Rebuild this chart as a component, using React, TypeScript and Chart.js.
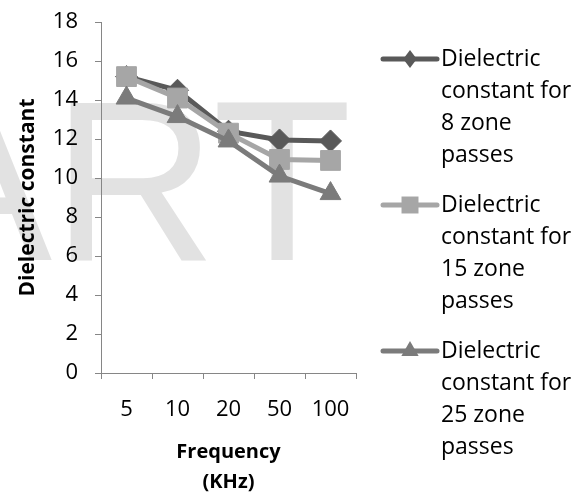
import React, { useEffect, useRef } from 'react';
import { Chart, registerables } from 'chart.js';

Chart.register(...registerables);

const categories = ['5', '10', '20', '50', '100'];
const zone8 = [15.2, 14.5, 12.4, 11.95, 11.9];
const zone15 = [15.2, 14.1, 12.3, 10.95, 10.9];
const zone25 = [14.1, 13.15, 11.9, 10.1, 9.2];
const seriesNames = [
  'Dielectric constant for 8 zone passes',
  'Dielectric constant for 15 zone passes',
  'Dielectric constant for 25 zone passes',
];
const legendLines = [
  ['Dielectric', 'constant for', '8 zone', 'passes'],
  ['Dielectric', 'constant for', '15 zone', 'passes'],
  ['Dielectric', 'constant for', '25 zone', 'passes'],
];
const yTitle = 'Dielectric constant';
const xTitleLines = ['Frequency', '(KHz)'];
const watermark = 'ART';

const COLORS = ['#595959', '#a6a6a6', '#7b7b7b'];
const STYLES = ['rectRot', 'rect', 'triangle'];
const AXIS = '#868686';
const FONT = '"Open Sans", "Noto Sans", sans-serif';

function drawMarker(ctx: CanvasRenderingContext2D, style: string, x: number, y: number, r: number) {
  ctx.beginPath();
  if (style === 'rectRot') {
    ctx.moveTo(x - r * 0.75, y);
    ctx.lineTo(x, y - r);
    ctx.lineTo(x + r * 0.75, y);
    ctx.lineTo(x, y + r);
  } else if (style === 'rect') {
    const s = r * Math.SQRT1_2;
    ctx.rect(x - s, y - s, 2 * s, 2 * s);
  } else {
    ctx.moveTo(x, y - r);
    ctx.lineTo(x + r * 0.866, y + r * 0.5);
    ctx.lineTo(x - r * 0.866, y + r * 0.5);
  }
  ctx.closePath();
  ctx.fill();
}

const overlayPlugin = {
  id: 'overlay',
  beforeDraw(chart: any) {
    const ctx = chart.ctx;
    ctx.save();
    ctx.fillStyle = '#e2e2e2';
    ctx.font = '228px "Liberation Sans", Arial, sans-serif';
    ctx.textBaseline = 'alphabetic';
    ctx.textAlign = 'left';
    ctx.fillText(watermark, -100, 260);
    ctx.restore();
  },
  afterDraw(chart: any) {
    const ctx = chart.ctx;
    const area = chart.chartArea;
    ctx.save();
    ctx.fillStyle = '#000';
    ctx.font = `bold 21px ${FONT}`;
    ctx.textAlign = 'center';
    ctx.textBaseline = 'middle';
    ctx.translate(28, (area.top + area.bottom) / 2);
    ctx.rotate(-Math.PI / 2);
    ctx.fillText(yTitle, 0, 0);
    ctx.restore();

    ctx.save();
    ctx.fillStyle = '#000';
    ctx.font = `bold 20px ${FONT}`;
    ctx.textAlign = 'center';
    ctx.textBaseline = 'middle';
    const cx = (area.left + area.right) / 2;
    xTitleLines.forEach((t, i) => ctx.fillText(t, cx, 452 + i * 30));
    ctx.restore();

    const x0 = 383;
    const x1 = 437;
    const startY = 59;
    const entryGap = 146;
    const lineGap = 32;
    chart.data.datasets.forEach((_ds: any, i: number) => {
      const y = startY + i * entryGap;
      ctx.save();
      ctx.strokeStyle = COLORS[i];
      ctx.lineWidth = 5;
      ctx.lineCap = 'round';
      ctx.beginPath();
      ctx.moveTo(x0, y);
      ctx.lineTo(x1, y);
      ctx.stroke();
      ctx.restore();

      ctx.save();
      ctx.fillStyle = COLORS[i];
      drawMarker(ctx, STYLES[i], (x0 + x1) / 2, y, [9, 12, 10][i]);
      ctx.restore();

      ctx.save();
      ctx.fillStyle = '#000';
      ctx.font = `23px ${FONT}`;
      ctx.textAlign = 'left';
      ctx.textBaseline = 'middle';
      legendLines[i].forEach((t, j) => ctx.fillText(t, 441, y + j * lineGap));
      ctx.restore();
    });
  },
};

export default function App() {
  const ref = useRef<HTMLCanvasElement | null>(null);
  useEffect(() => {
    if (!ref.current) return;
    const values = [zone8, zone15, zone25];
    const radii = [11, 14, 12];
    const chart = new Chart(ref.current, {
      type: 'line',
      data: {
        labels: categories,
        datasets: values.map((v, i) => ({
          label: seriesNames[i],
          data: v,
          borderColor: COLORS[i],
          backgroundColor: COLORS[i],
          borderWidth: 5,
          pointStyle: STYLES[i] as any,
          pointRadius: radii[i],
          pointBackgroundColor: COLORS[i],
          pointBorderColor: COLORS[i],
          pointBorderWidth: 1,
          tension: 0,
          order: 2 - i,
        })),
      },
      options: {
        animation: false,
        responsive: true,
        maintainAspectRatio: false,
        layout: { autoPadding: false, padding: { top: 22, right: 229, left: 0, bottom: 0 } },
        plugins: {
          legend: { display: false },
          tooltip: { enabled: false },
        },
        scales: {
          x: {
            type: 'category',
            offset: true,
            grid: {
              offset: true,
              drawOnChartArea: false,
              drawTicks: true,
              tickLength: 6,
              color: AXIS,
            },
            border: { color: AXIS, width: 1 },
            ticks: {
              color: '#000',
              font: { family: FONT, size: 22 },
              padding: 18,
              maxRotation: 0,
              autoSkip: false,
            },
            afterFit: (s: any) => {
              s.height = 120;
              s.paddingLeft = 0;
              s.paddingRight = 0;
            },
          },
          y: {
            min: 0,
            max: 18,
            grid: {
              drawOnChartArea: false,
              drawTicks: true,
              tickLength: 6,
              color: AXIS,
            },
            border: { color: AXIS, width: 1 },
            ticks: {
              stepSize: 2,
              color: '#000',
              font: { family: FONT, size: 22 },
              padding: 17,
            },
            afterFit: (s: any) => {
              s.width = 101;
              s.paddingTop = 0;
              s.paddingBottom = 0;
            },
          },
        },
      },
      plugins: [overlayPlugin],
    });
    return () => chart.destroy();
  }, []);

  return (
    <div style={{ position: 'absolute', left: 0, top: 0, width: 585, height: 493, background: '#fff' }}>
      <canvas ref={ref} />
    </div>
  );
}
